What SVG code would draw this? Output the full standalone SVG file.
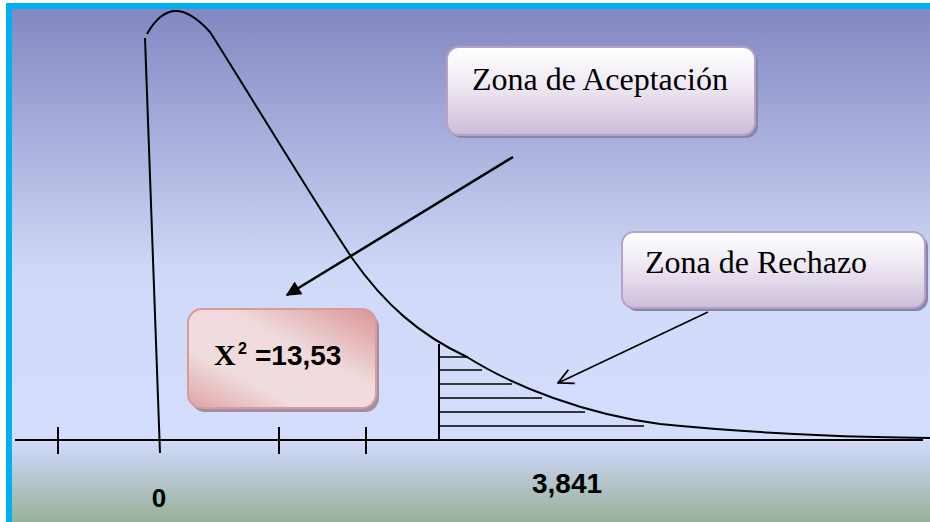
<svg xmlns="http://www.w3.org/2000/svg" width="930" height="522" viewBox="0 0 930 522">
<defs>
<linearGradient id="bgTop" x1="0" y1="9" x2="0" y2="440" gradientUnits="userSpaceOnUse">
<stop offset="0" stop-color="#8387C2"/>
<stop offset="0.62" stop-color="#D0DAF8"/>
<stop offset="1" stop-color="#D4DEFC"/>
</linearGradient>
<linearGradient id="bgBot" x1="0" y1="440" x2="0" y2="522" gradientUnits="userSpaceOnUse">
<stop offset="0" stop-color="#D2DCF8"/>
<stop offset="0.25" stop-color="#C3CFE8"/>
<stop offset="1" stop-color="#97B196"/>
</linearGradient>
<linearGradient id="lav" x1="0" y1="0" x2="0" y2="1">
<stop offset="0" stop-color="#FFFFFF"/>
<stop offset="0.45" stop-color="#EEE8F2"/>
<stop offset="1" stop-color="#CDBCD9"/>
</linearGradient>
<linearGradient id="pink" x1="0" y1="1" x2="1" y2="0">
<stop offset="0" stop-color="#DDA3A4"/>
<stop offset="0.3" stop-color="#F1DCDD"/>
<stop offset="0.6" stop-color="#F0DADB"/>
<stop offset="1" stop-color="#DA9596"/>
</linearGradient>
<marker id="fill" viewBox="0 0 10 10" refX="9" refY="5" markerWidth="7" markerHeight="6" markerUnits="strokeWidth" orient="auto">
<path d="M0,0 L10,5 L0,10 z" fill="#000"/>
</marker>
<marker id="open" viewBox="0 0 12 12" refX="11" refY="6" markerWidth="12" markerHeight="12" markerUnits="strokeWidth" orient="auto">
<path d="M1,1 L11,6 L1,11" fill="none" stroke="#000" stroke-width="1.2"/>
</marker>
</defs>
<style>
.ln{fill:none;stroke:#000;stroke-width:2}
.th{fill:none;stroke:#000;stroke-width:1.6}
.lbl{font-family:"Liberation Serif","Times New Roman",serif;font-size:32px;fill:#000}
.num{font-family:"Liberation Sans",Arial,sans-serif;font-weight:bold;fill:#000}
.box{stroke:#B4A3C9;stroke-width:2}
.shd{fill:#8A83AC}
</style>
<rect x="0" y="0" width="930" height="522" fill="#FFFFFF"/>
<rect x="12" y="9" width="918" height="432" fill="url(#bgTop)"/>
<rect x="12" y="440" width="918" height="82" fill="url(#bgBot)"/>
<rect x="6" y="3" width="924" height="6" fill="#00B0F0"/>
<rect x="6" y="3" width="6" height="519" fill="#00B0F0"/>

<g id="curve">
<path class="ln" d="M147,34 C156,18 166,11 176,11 C188,11 200,21 210,32 C250,95 310,195 352,258 C385,305 420,335 467,357 C515,387 585,414 660,424 C740,432 840,437 930,438"/>
<path class="ln" d="M145,38 L160,453"/>
</g>
<g id="axis">
<path class="ln" d="M15,440 L923,440"/>
<path class="ln" d="M58,427 L58,454 M279,427 L279,454 M366,427 L366,454"/>
</g>
<g id="hatch">
<path class="ln" d="M439,344 L439,440"/>
<path class="th" d="M439,357 L468,357 M439,370 L482,370 M439,384 L512,384 M439,398 L542,398 M439,412 L585,412 M439,426 L644,426"/>
</g>

<g id="node-aceptacion">
<rect class="shd" x="450" y="50" width="308" height="88" rx="12"/>
<rect class="box" x="447" y="47" width="308" height="88" rx="12" fill="url(#lav)"/>
<text class="lbl" x="472" y="90">Zona de Aceptación</text>
</g>
<g id="node-rechazo">
<rect class="shd" x="625" y="235" width="303" height="76" rx="12"/>
<rect class="box" x="622" y="232" width="303" height="76" rx="12" fill="url(#lav)"/>
<text class="lbl" x="645" y="273">Zona de Rechazo</text>
</g>
<g id="node-x2">
<rect x="191" y="313" width="188" height="99" rx="14" fill="#A48DA6"/>
<rect x="188" y="309" width="188" height="99" rx="14" fill="url(#pink)" stroke="#D99A9B" stroke-width="2"/>
<text x="214" y="365" font-family="'Liberation Serif','Times New Roman',serif" font-weight="bold" font-size="30" fill="#000">X</text>
<text x="238" y="354" class="num" font-size="16">2</text>
<text x="255" y="365" class="num" font-size="28">=13,53</text>
</g>
<g id="labels">
<text class="num" x="159" y="507" font-size="26" text-anchor="middle">0</text>
<text class="num" x="532" y="493" font-size="28">3,841</text>
</g>

<g id="connectors">
<path d="M513,157 L287,295" stroke="#000" stroke-width="2.5" fill="none" marker-end="url(#fill)"/>
<path d="M708,312 L558,383" stroke="#000" stroke-width="1.5" fill="none" marker-end="url(#open)"/>
</g>
</svg>
